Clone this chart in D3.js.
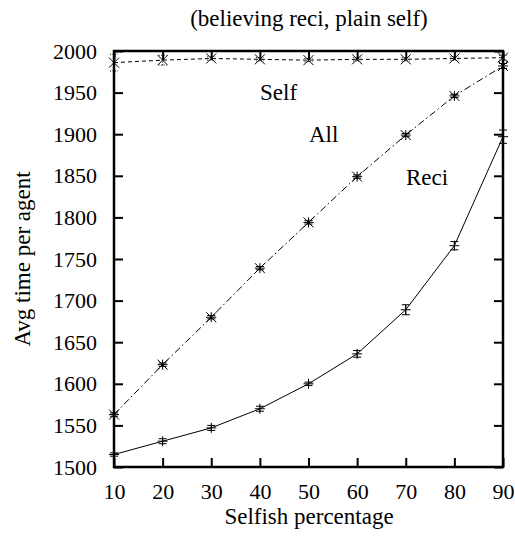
<!DOCTYPE html>
<html>
<head>
<meta charset="utf-8">
<script src="https://cdn.jsdelivr.net/npm/d3@7"></script>
<style>
  body { margin: 0; background: #fff; }
  text { font-family: "Liberation Serif", "Times New Roman", serif; fill: #000; }
</style>
</head>
<body>
<svg id="chart" width="515" height="541"></svg>
<script>
// the data
const percent = [10, 20, 30, 40, 50, 60, 70, 80, 90];
const selfVals = [1986, 1989, 1991, 1990, 1989, 1990, 1990, 1991, 1992];
const selfErr  = [10, 6, 2, 2, 2, 2, 2, 2, 3];
const allVals  = [1563, 1623, 1680, 1739, 1794, 1849, 1899, 1946, 1982];
const allErr   = [2, 2, 2, 2, 2, 2, 2, 2, 3];
const reciVals = [1515, 1531, 1547, 1570, 1600, 1636, 1689, 1766, 1897];
const reciErr  = [2, 3, 3, 3, 2, 4, 6, 5, 8];
const yTicks = [1500, 1550, 1600, 1650, 1700, 1750, 1800, 1850, 1900, 1950, 2000];

let svg = d3.select("#chart");
const pLeft = 114, pRight = 503, pTop = 51, pBottom = 467;

let x = d3.scaleLinear().domain([10, 90]).range([pLeft, pRight]);
let y = d3.scaleLinear().domain([1500, 2000]).range([pBottom, pTop]);

// title
svg.append("text").attr("x", 309).attr("y", 26).attr("text-anchor", "middle")
  .style("font-size", "23px").text("(believing reci, plain self)");

// axes with inward ticks
svg.append("g").attr("transform", `translate(${pLeft},0)`)
  .call(d3.axisLeft(y).tickValues(yTicks).tickSize(-9).tickPadding(17).tickFormat(d3.format("d")));
svg.append("g").attr("transform", `translate(${pRight},0)`)
  .call(d3.axisRight(y).tickValues(yTicks).tickSize(-9).tickFormat(""));
svg.append("g").attr("transform", `translate(0,${pBottom})`)
  .call(d3.axisBottom(x).tickValues(percent).tickSize(-9).tickPadding(16));
svg.append("g").attr("transform", `translate(0,${pTop})`)
  .call(d3.axisTop(x).tickValues(percent).tickSize(-9).tickFormat(""));

svg.selectAll(".domain").remove();
svg.selectAll(".tick line").attr("stroke", "#000").attr("stroke-width", 2);
svg.selectAll(".tick text").style("font-size", "22px").style("font-family", "Liberation Serif");

svg.append("rect").attr("x", pLeft).attr("y", pTop)
  .attr("width", pRight - pLeft).attr("height", pBottom - pTop)
  .attr("fill", "none").attr("stroke", "#000").attr("stroke-width", 2.5);

// axis labels
svg.append("text").attr("x", 309).attr("y", 524).attr("text-anchor", "middle")
  .style("font-size", "23px").text("Selfish percentage");
svg.append("text").attr("transform", "translate(30,259) rotate(-90)").attr("text-anchor", "middle")
  .style("font-size", "23px").text("Avg time per agent");

// series
const series = [
  { vals: selfVals, err: selfErr, dash: "4,3", marker: "x", errDash: "1,1.5" },
  { vals: allVals, err: allErr, dash: "7,3,1.5,3", marker: "star", errDash: null },
  { vals: reciVals, err: reciErr, dash: null, marker: "plus", errDash: null }
];

const m = 5;
series.forEach(s => {
  let pts = percent.map((p, i) => [p, s.vals[i], s.err[i]]);
  let g = svg.append("g");
  g.append("path").datum(pts)
    .attr("d", d3.line().x(d => x(d[0])).y(d => y(d[1])))
    .attr("fill", "none").attr("stroke", "#000").attr("stroke-width", 1)
    .attr("stroke-dasharray", s.dash);
  // error bars
  let eb = g.selectAll(".eb").data(pts).enter().append("g")
    .attr("stroke", "#000").attr("stroke-width", 1).attr("stroke-dasharray", s.errDash);
  eb.append("line").attr("x1", d => x(d[0])).attr("x2", d => x(d[0]))
    .attr("y1", d => y(d[1] - d[2])).attr("y2", d => y(d[1] + d[2]));
  eb.append("line").attr("x1", d => x(d[0]) - 4).attr("x2", d => x(d[0]) + 4)
    .attr("y1", d => y(d[1] - d[2])).attr("y2", d => y(d[1] - d[2]));
  eb.append("line").attr("x1", d => x(d[0]) - 4).attr("x2", d => x(d[0]) + 4)
    .attr("y1", d => y(d[1] + d[2])).attr("y2", d => y(d[1] + d[2]));
  // markers
  let mk = g.selectAll(".mk").data(pts).enter().append("g")
    .attr("transform", d => `translate(${x(d[0])},${y(d[1])})`)
    .attr("stroke", "#000").attr("stroke-width", 1);
  if (s.marker === "x" || s.marker === "star") {
    mk.append("line").attr("x1", -m).attr("y1", -m).attr("x2", m).attr("y2", m);
    mk.append("line").attr("x1", -m).attr("y1", m).attr("x2", m).attr("y2", -m);
  }
  if (s.marker === "plus" || s.marker === "star") {
    mk.append("line").attr("x1", -m).attr("y1", 0).attr("x2", m).attr("y2", 0);
    mk.append("line").attr("x1", 0).attr("y1", -m).attr("x2", 0).attr("y2", m);
  }
});

// in-plot labels
svg.append("text").attr("x", 260).attr("y", 100).style("font-size", "23px").text("Self");
svg.append("text").attr("x", 309).attr("y", 142).style("font-size", "23px").text("All");
svg.append("text").attr("x", 406).attr("y", 185).style("font-size", "23px").text("Reci");
</script>
</body>
</html>
